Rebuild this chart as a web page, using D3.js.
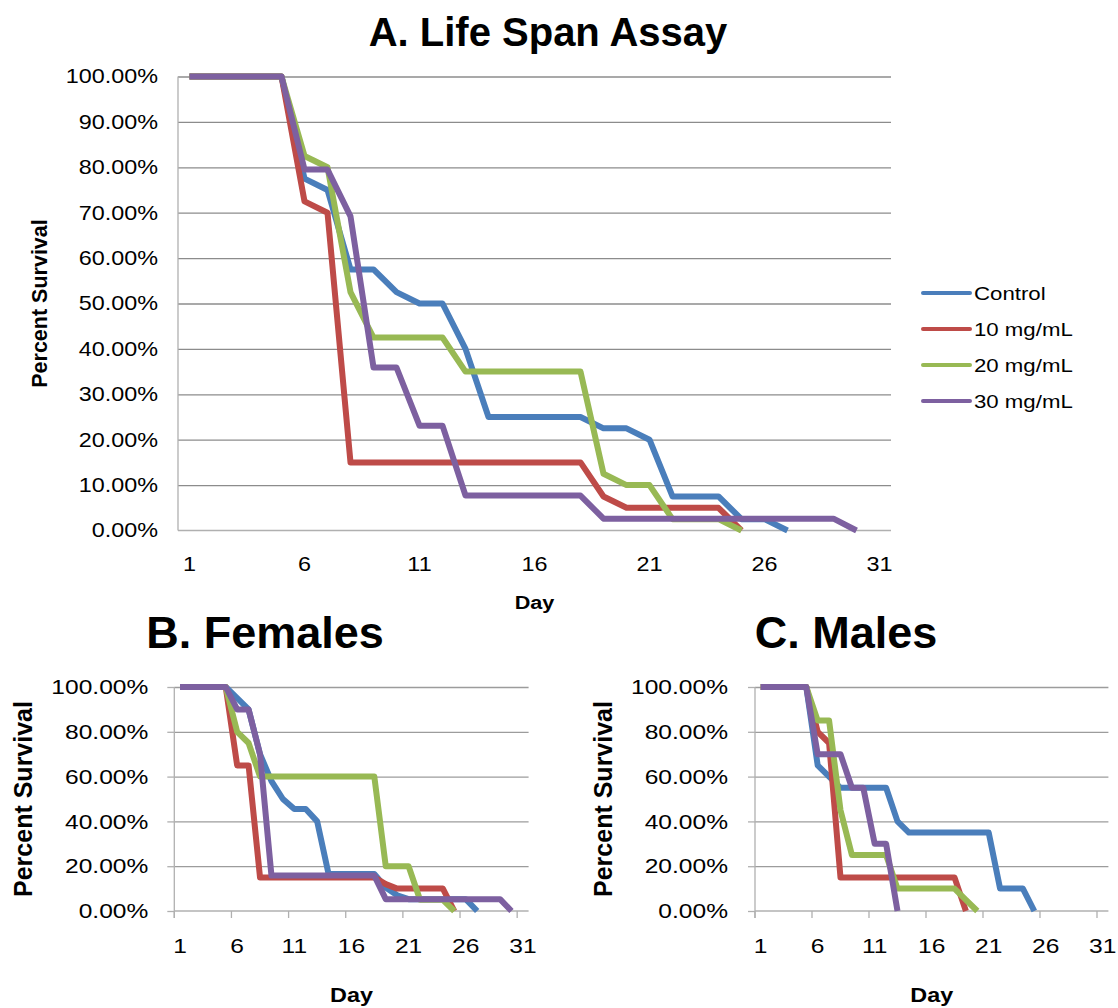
<!DOCTYPE html>
<html>
<head>
<meta charset="utf-8">
<script src="https://cdn.jsdelivr.net/npm/d3@7"></script>
<style>
body{margin:0;background:#fff;}
svg text{font-family:"Liberation Sans",Arial,sans-serif;fill:#000;}
</style>
</head>
<body>
<script>
let days = [1,2,3,4,5,6,7,8,9,10,11,12,13,14,15,16,17,18,19,20,21,22,23,24,25,26,27,28,29,30,31],
    dayTicks = [1,6,11,16,21,26,31],
    yTicksA = [0,10,20,30,40,50,60,70,80,90,100],
    yTicksBC = [0,20,40,60,80,100],
    names = ['Control','10 mg/mL','20 mg/mL','30 mg/mL'],
    colors = ['#4a7ebb','#be4b48','#98b954','#7d60a0'];

// A. all flies
let controlAll = [100,100,100,100,100,77.5,75,57.5,57.5,52.5,50,50,40,25,25,25,25,25,22.5,22.5,20,7.5,7.5,7.5,2.5,2.5,0,null,null,null,null];
let mg10All = [100,100,100,100,100,72.5,70,15,15,15,15,15,15,15,15,15,15,15,7.5,5,5,5,5,5,0,null,null,null,null,null,null];
let mg20All = [100,100,100,100,100,82.5,80,52.5,42.5,42.5,42.5,42.5,35,35,35,35,35,35,12.5,10,10,2.5,2.5,2.5,0,null,null,null,null,null,null];
let mg30All = [100,100,100,100,100,79.5,79.5,69.2,35.9,35.9,23.1,23.1,7.7,7.7,7.7,7.7,7.7,7.7,2.6,2.6,2.6,2.6,2.6,2.6,2.6,2.6,2.6,2.6,2.6,0,null];

// B. females
let controlF = [100,100,100,100,100,95,90,70,58,50,45.5,45.5,40,16.5,16.5,16.5,16.5,16.5,10.5,7,5.3,5.3,5.3,5.3,5.3,5.3,0,null,null,null,null];
let mg10F = [100,100,100,100,100,65,65,15,15,15,15,15,15,15,15,15,15,15,12,10,10,10,10,10,0,null,null,null,null,null,null];
let mg20F = [100,100,100,100,100,80,75,60,60,60,60,60,60,60,60,60,60,60,20,20,20,5,5,5,0,null,null,null,null,null,null];
let mg30F = [100,100,100,100,100,90,90,70,15.8,15.8,15.8,15.8,15.8,15.8,15.8,15.8,15.8,15.8,5.3,5.3,5.3,5.3,5.3,5.3,5.3,5.3,5.3,5.3,5.3,0,null];

// C. males
let controlM = [100,100,100,100,100,65,60,55,55,55,55,55,40,35,35,35,35,35,35,35,35,10,10,10,0,null,null,null,null,null,null];
let mg10M = [100,100,100,100,100,80,75,15,15,15,15,15,15,15,15,15,15,15,0,null,null,null,null,null,null,null,null,null,null,null,null];
let mg20M = [100,100,100,100,100,85,85,45,25,25,25,25,10,10,10,10,10,10,5,0,null,null,null,null,null,null,null,null,null,null,null];
let mg30M = [100,100,100,100,100,70,70,70,55,55,30,30,0,null,null,null,null,null,null,null,null,null,null,null,null,null,null,null,null,null,null];

let SX = 1.17;

let svg = d3.select('body')
  .append('svg')
  .attr('width',1118)
  .attr('height',1008);

let drawPanel = (p) => {
    let x = d3.scaleBand().domain(days).range([p.x0,p.x1]);
    let y = d3.scaleLinear().domain([0,100]).range([p.y1,p.y0]);

    // gridlines
    svg.append('g')
      .attr('transform',`translate(${p.x0},0)`)
      .call(d3.axisLeft(y).tickValues(p.yTicks.filter(v=>v>0)).tickSize(-(p.x1-p.x0)).tickFormat(''))
      .call(g=>g.select('.domain').remove())
      .selectAll('line')
      .attr('stroke',p.grid)
      .attr('stroke-width',1.3);

    svg.append('line')
      .attr('x1',p.x0).attr('x2',p.x1).attr('y1',p.y1).attr('y2',p.y1)
      .attr('stroke','#b0b0b0').attr('stroke-width',1.3);
    svg.append('line')
      .attr('x1',p.x0).attr('x2',p.x0).attr('y1',p.y0).attr('y2',p.y1 + p.tick)
      .attr('stroke','#b0b0b0').attr('stroke-width',1.3);

    let ya = svg.append('g')
      .attr('transform',`translate(${p.x0},0)`)
      .call(d3.axisLeft(y).tickValues(p.yTicks).tickSize(p.tick).tickSizeOuter(0).tickFormat(d=>d.toFixed(2)+'%'));
    ya.select('.domain').remove();
    ya.selectAll('line').attr('stroke','#b0b0b0').attr('stroke-width',1.3);
    ya.selectAll('text')
      .attr('x',-p.yPad/SX)
      .attr('transform',`scale(${SX},1)`)
      .style('font-size',p.font+'px');

    let xa = svg.append('g')
      .attr('transform',`translate(0,${p.y1})`)
      .call(d3.axisBottom(x).tickValues(dayTicks).tickSize(0).tickPadding(p.xPad));
    xa.select('.domain').remove();
    xa.selectAll('text')
      .attr('transform',`scale(${SX},1)`)
      .style('font-size',p.font+'px');

    if(p.tick > 0){
        svg.append('g')
          .selectAll('line')
          .data(dayTicks)
          .join('line')
          .attr('x1',d=>x(d)).attr('x2',d=>x(d))
          .attr('y1',p.y1).attr('y2',p.y1+p.tick)
          .attr('stroke','#b0b0b0').attr('stroke-width',1.3);
    }

    let line = d3.line()
      .defined(d=>d[1]!=null)
      .x(d=>x(d[0])+x.bandwidth()/2)
      .y(d=>y(d[1]));

    p.series.forEach((s,i)=>{
        svg.append('path')
          .datum(days.map((d,j)=>[d,s[j]]))
          .attr('d',line)
          .attr('fill','none')
          .attr('stroke',colors[i])
          .attr('stroke-width',p.lw)
          .attr('stroke-linejoin','round');
    });

    svg.append('text')
      .text(p.title)
      .attr('x',p.titleX).attr('y',p.titleY)
      .attr('text-anchor','middle')
      .style('font-weight','bold')
      .style('font-size',p.titleSize+'px');

    svg.append('text')
      .text('Percent Survival')
      .attr('transform',`translate(${p.ylabX},${(p.y0+p.y1)/2}) rotate(-90)`)
      .attr('text-anchor','middle')
      .style('font-weight','bold')
      .style('font-size',p.labSize+'px');

    svg.append('text')
      .text('Day')
      .attr('transform',`translate(${(p.x0+p.x1)/2},${p.dayY}) scale(${SX},1)`)
      .attr('text-anchor','middle')
      .style('font-weight','bold')
      .style('font-size',p.daySize+'px');
};

drawPanel({x0:178,x1:891,y0:76.5,y1:530.5,yTicks:yTicksA,tick:0,grid:'#8c8c8c',
  yPad:20,xPad:26,font:20,lw:6,series:[controlAll,mg10All,mg20All,mg30All],
  title:'A. Life Span Assay',titleX:548,titleY:46,titleSize:40,
  ylabX:47,labSize:21.5,dayY:609,daySize:18.5});

drawPanel({x0:174.3,x1:528.6,y0:687,y1:911,yTicks:yTicksBC,tick:7,grid:'#9c9c9c',
  yPad:26,xPad:27,font:21,lw:6,series:[controlF,mg10F,mg20F,mg30F],
  title:'B. Females',titleX:265,titleY:648,titleSize:45,
  ylabX:32,labSize:25,dayY:1002,daySize:20});

drawPanel({x0:755,x1:1108.4,y0:687,y1:911,yTicks:yTicksBC,tick:7,grid:'#9c9c9c',
  yPad:27,xPad:27,font:21,lw:6,series:[controlM,mg10M,mg20M,mg30M],
  title:'C. Males',titleX:846,titleY:648,titleSize:45,
  ylabX:612,labSize:25,dayY:1002,daySize:20});

// legend
let legend = svg.append('g')
  .selectAll('g')
  .data(names)
  .join('g')
  .attr('transform',(d,i)=>`translate(923,${293 + i*36})`);

legend.append('line')
  .attr('x1',0).attr('x2',47)
  .attr('stroke',(d,i)=>colors[i])
  .attr('stroke-width',4)
  .attr('stroke-linecap','round');

legend.append('text')
  .text(d=>d)
  .attr('transform',`translate(51,7) scale(${SX},1)`)
  .style('font-size','19px');
</script>
</body>
</html>
